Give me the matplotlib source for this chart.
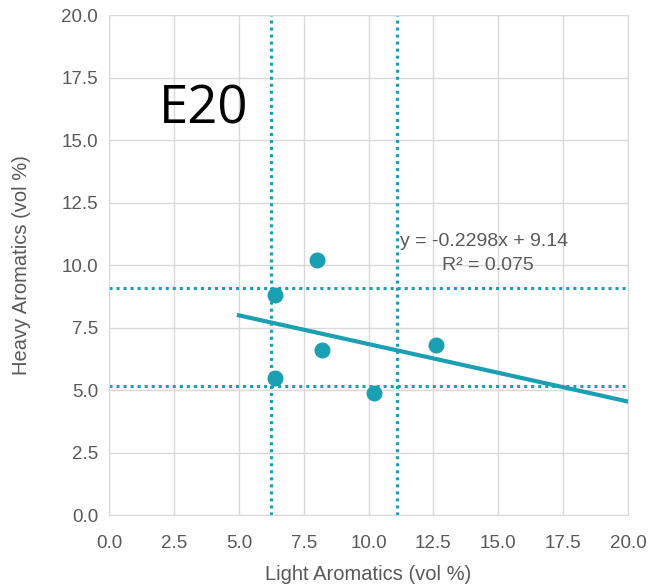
import matplotlib.pyplot as plt
import numpy as np

# data
light_arom = [6.4, 8.0, 8.2, 6.4, 10.2, 12.6]
heavy_arom = [8.8, 10.2, 6.6, 5.5, 4.9, 6.8]
trend_x = [5.0, 20.0]
slope = -0.2298
intercept = 9.14
r2 = 0.075
vlines = [6.25, 11.1]
hlines = [9.1, 5.15]
ticks = np.arange(0, 20.01, 2.5)

teal = "#1a9fb3"
grey = "#595959"

plt.rcParams["font.family"] = ["Liberation Sans", "DejaVu Sans"]

fig = plt.figure(figsize=(6.5, 5.84), dpi=100)
ax = fig.add_axes([0.168, 0.118, 0.798, 0.856])

ax.scatter(light_arom, heavy_arom, s=110, color=teal, zorder=4)
tx = np.array(trend_x)
ax.plot(tx, slope * tx + intercept, color=teal, linewidth=3, zorder=3)

for v in vlines:
    ax.axvline(v, color=teal, linestyle=(0, (1, 1.3)), linewidth=2.2, zorder=2)
for h in hlines:
    ax.axhline(h, color=teal, linestyle=(0, (1, 1.3)), linewidth=2.2, zorder=2)

ax.set_xlim(0, 20)
ax.set_ylim(0, 20)
ax.set_xticks(ticks)
ax.set_yticks(ticks)
ax.xaxis.set_major_formatter(plt.FuncFormatter(lambda x, _: f"{x:.1f}"))
ax.yaxis.set_major_formatter(plt.FuncFormatter(lambda x, _: f"{x:.1f}"))
ax.grid(True, color="#d9d9d9", linewidth=1)
ax.set_axisbelow(True)
for s in ax.spines.values():
    s.set_color("#d9d9d9")
ax.tick_params(length=0, labelsize=13.5, colors=grey)
ax.tick_params(axis="x", pad=14)
ax.tick_params(axis="y", pad=8)

ax.set_xlabel("Light Aromatics (vol %)", fontsize=14.5, color=grey, labelpad=10)
ax.set_ylabel("Heavy Aromatics (vol %)", fontsize=14.5, color=grey, labelpad=22)

ax.text(11.2, 10.95, f"y = {slope}x + {intercept}", fontsize=14, color=grey,
        va="center")
ax.text(12.85, 10.0, f"R² = {r2}", fontsize=14, color=grey, va="center")

ax.text(1.9, 16.2, "E20", fontsize=38, color="black", va="center",
        family=["Open Sans", "DejaVu Sans"])

plt.savefig("out.png", dpi=100)
